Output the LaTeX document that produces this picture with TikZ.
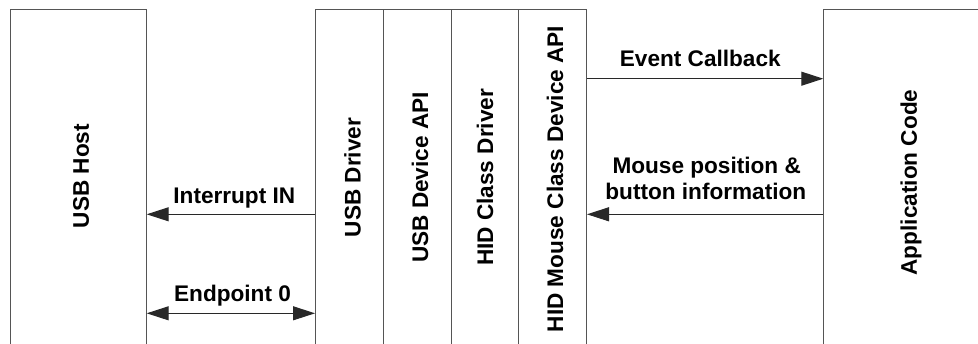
\documentclass[tikz,border=0pt]{standalone}
\usepackage{fontspec}
\setmainfont{Liberation Sans}
\usetikzlibrary{arrows.meta}
\definecolor{boxline}{RGB}{85,85,85}
\definecolor{arrline}{RGB}{40,40,40}
\tikzset{
  layer/.style={draw=boxline, line width=1pt, rectangle, inner sep=0pt, anchor=north west},
  lbl/.style={font=\bfseries\fontsize{22.6pt}{26pt}\selectfont, inner sep=0pt},
  vlbl/.style={lbl, rotate=90},
  arr/.style={draw=arrline, line width=1pt, -{Triangle[length=22pt,width=14pt]}},
  darr/.style={draw=arrline, line width=1pt, {Triangle[length=22pt,width=14pt]}-{Triangle[length=22pt,width=14pt]}}
}
\begin{document}
\begin{tikzpicture}[x=1pt,y=-1pt]
\useasboundingbox (0,0) rectangle (978,343);
\clip (0,0) rectangle (978,343);
% boxes
\node[layer, minimum width=135.7pt, minimum height=345pt] (host) at (10,9.3) {};
\node[layer, minimum width=67.7pt, minimum height=345pt] (drv) at (315,9.3) {};
\node[layer, minimum width=68pt, minimum height=345pt] (api) at (382.7,9.3) {};
\node[layer, minimum width=67.6pt, minimum height=345pt] (hid) at (450.7,9.3) {};
\node[layer, minimum width=67.7pt, minimum height=345pt] (mouse) at (518.3,9.3) {};
\node[layer, minimum width=180pt, minimum height=345pt] (app) at (823.3,9.3) {};
% box texts
\node[vlbl] (hostT) at (81,176) {USB Host};
\node[vlbl] (drvT) at (352.5,177.5) {USB Driver};
\node[vlbl] (apiT) at (420,177.5) {USB Device API};
\node[vlbl] (hidT) at (485,177.4) {HID Class Driver};
\node[vlbl] (mouseT) at (555,179) {HID Mouse Class Device API};
\node[vlbl] (appT) at (911,182.5) {Application Code};
% connector heights
\coordinate (yIN) at (0,214.3);
\coordinate (yEP) at (0,313.3);
\coordinate (yEV) at (0,78.7);
\coordinate (yMP) at (0,214.3);
% connectors
\draw[arr] (drv.west |- yIN) -- (host.east |- yIN);
\draw[darr] (host.east |- yEP) -- (drv.west |- yEP);
\draw[arr] (mouse.east |- yEV) -- (app.west |- yEV);
\draw[arr] (app.west |- yMP) -- (mouse.east |- yMP);
% connector labels
\node[lbl, anchor=base] (inL) at (234.3,203.3) {Interrupt IN};
\node[lbl, anchor=base] (epL) at (232.5,301.7) {Endpoint 0};
\node[lbl, anchor=base] (evL) at (700.3,66.7) {Event Callback};
\node[lbl, anchor=base] (mpL1) at (706.7,173.3) {Mouse position \&};
\node[lbl, anchor=base] (mpL2) at (705.8,199.3) {button information};
\end{tikzpicture}
\end{document}
